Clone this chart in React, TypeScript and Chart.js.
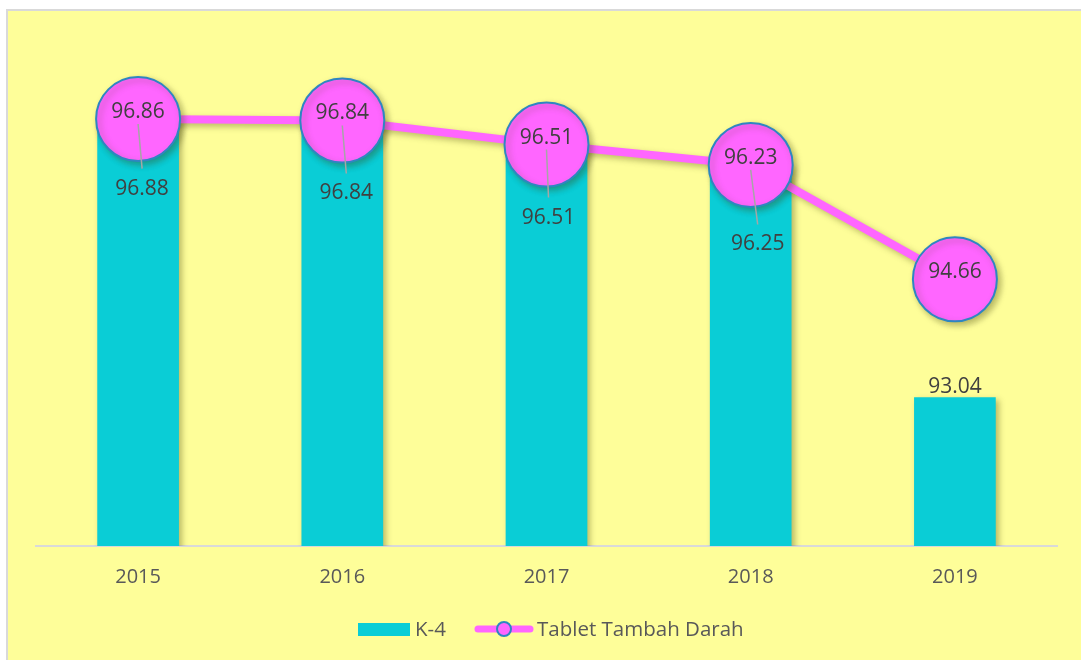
import React, { useEffect, useRef } from "react";
import { Chart, registerables } from "chart.js";

Chart.register(...registerables);

const categories = ["2015", "2016", "2017", "2018", "2019"];
const k4Values = [96.88, 96.84, 96.51, 96.25, 93.04];
const ttdValues = [96.86, 96.84, 96.51, 96.23, 94.66];
const seriesNames = ["K-4", "Tablet Tambah Darah"];
const yMin = 91;
const yMax = 98;

// label placement tweaks (style, not data)
const barLabelDy = [71, 73, 73, 81, -10];
const barLabelDx = [4, 4, 2, 7, 0];
const lineLabelDy = -7;

const BAR_COLOR = "#0ACDD6";
const LINE_COLOR = "#FF66FF";
const POINT_BORDER = "#2E86C1";
const TEXT_COLOR = "#404040";
const AXIS_TEXT = "#595959";
const FONT = "'Open Sans', 'Noto Sans', sans-serif";

const shadowPlugin = {
  id: "shadowPlugin",
  beforeDatasetDraw(chart: any) {
    const ctx = chart.ctx;
    ctx.save();
    ctx.shadowColor = "rgba(60,60,0,0.35)";
    ctx.shadowBlur = 6;
    ctx.shadowOffsetX = 3;
    ctx.shadowOffsetY = 3;
  },
  afterDatasetDraw(chart: any) {
    chart.ctx.restore();
  },
};

const labelPlugin = {
  id: "labelPlugin",
  afterDatasetsDraw(chart: any) {
    const ctx = chart.ctx;
    const barMeta = chart.getDatasetMeta(0);
    const lineMeta = chart.getDatasetMeta(1);
    ctx.save();
    ctx.font = `21px ${FONT}`;
    ctx.textAlign = "center";
    ctx.textBaseline = "middle";
    for (let i = 0; i < categories.length; i++) {
      const bar = barMeta.data[i];
      const pt = lineMeta.data[i];
      const bx = bar.x + barLabelDx[i];
      const by = bar.y + barLabelDy[i];
      const ly = pt.y + lineLabelDy;
      if (barLabelDy[i] > 0) {
        ctx.strokeStyle = "#A6A6A6";
        ctx.lineWidth = 1.5;
        ctx.beginPath();
        ctx.moveTo(pt.x, ly + 12);
        ctx.lineTo(bx, by - 20);
        ctx.stroke();
      }
    }
    ctx.fillStyle = TEXT_COLOR;
    for (let i = 0; i < categories.length; i++) {
      const bar = barMeta.data[i];
      const pt = lineMeta.data[i];
      ctx.fillText(k4Values[i].toFixed(2), bar.x + barLabelDx[i], bar.y + barLabelDy[i]);
      ctx.fillText(ttdValues[i].toFixed(2), pt.x, pt.y + lineLabelDy);
    }
    ctx.restore();
  },
};

const legendPlugin = {
  id: "customLegend",
  afterDraw(chart: any) {
    const ctx = chart.ctx;
    ctx.save();
    ctx.font = `20.5px ${FONT}`;
    ctx.textBaseline = "middle";
    ctx.textAlign = "left";
    const cy = 629;
    let x = 358;
    ctx.fillStyle = BAR_COLOR;
    ctx.fillRect(x, cy - 6, 52, 13);
    x += 57;
    ctx.fillStyle = AXIS_TEXT;
    ctx.fillText(seriesNames[0], x, cy + 1);
    x = 475;
    ctx.strokeStyle = LINE_COLOR;
    ctx.lineWidth = 7;
    ctx.lineCap = "round";
    ctx.beginPath();
    ctx.moveTo(x + 3, cy);
    ctx.lineTo(x + 55, cy);
    ctx.stroke();
    ctx.beginPath();
    ctx.arc(x + 29, cy, 7, 0, Math.PI * 2);
    ctx.fillStyle = LINE_COLOR;
    ctx.fill();
    ctx.lineWidth = 2;
    ctx.strokeStyle = POINT_BORDER;
    ctx.stroke();
    x = 537;
    ctx.fillStyle = AXIS_TEXT;
    ctx.fillText(seriesNames[1], x, cy + 1);
    ctx.restore();
  },
};

export default function App() {
  const canvasRef = useRef<HTMLCanvasElement | null>(null);

  useEffect(() => {
    const canvas = canvasRef.current;
    if (!canvas) return;
    const chart = new Chart(canvas, {
      type: "bar",
      data: {
        labels: categories,
        datasets: [
          {
            type: "bar",
            label: seriesNames[0],
            data: k4Values,
            backgroundColor: BAR_COLOR,
            borderWidth: 0,
            barPercentage: 0.4,
            categoryPercentage: 1,
            order: 2,
          },
          {
            type: "line",
            label: seriesNames[1],
            data: ttdValues,
            borderColor: LINE_COLOR,
            borderWidth: 8,
            backgroundColor: LINE_COLOR,
            pointRadius: 42,
            pointHoverRadius: 42,
            pointBackgroundColor: LINE_COLOR,
            pointBorderColor: POINT_BORDER,
            pointBorderWidth: 2,
            tension: 0,
            clip: false,
            order: 1,
          } as any,
        ],
      },
      options: {
        responsive: false,
        animation: false,
        layout: { autoPadding: false, padding: { left: 36, right: 24, top: 36, bottom: 0 } },
        plugins: {
          legend: { display: false },
          tooltip: { enabled: false },
        },
        scales: {
          x: {
            offset: true,
            grid: { display: false, drawTicks: false },
            border: { display: true, color: "#D9D9D9", width: 2 },
            ticks: {
              color: AXIS_TEXT,
              font: { family: FONT, size: 20 },
              padding: 19,
            },
            afterFit: (scale: any) => {
              scale.height = 114;
            },
          },
          y: {
            display: false,
            min: yMin,
            max: yMax,
          },
        },
      } as any,
      plugins: [shadowPlugin, labelPlugin, legendPlugin],
    });
    return () => chart.destroy();
  }, []);

  return (
    <div
      style={{
        position: "fixed",
        left: 0,
        top: 0,
        width: 1081,
        height: 660,
        overflow: "hidden",
        background: "#FFFFFF",
      }}
    >
      <div
        style={{
          position: "absolute",
          left: 6,
          top: 9,
          width: 1100,
          height: 700,
          background: "#FEFE99",
          borderLeft: "2px solid #D9D9D9",
          borderTop: "2px solid #D9D9D9",
        }}
      />
      <canvas
        ref={canvasRef}
        width={1081}
        height={660}
        style={{ position: "absolute", left: 0, top: 0, width: 1081, height: 660 }}
      />
    </div>
  );
}
